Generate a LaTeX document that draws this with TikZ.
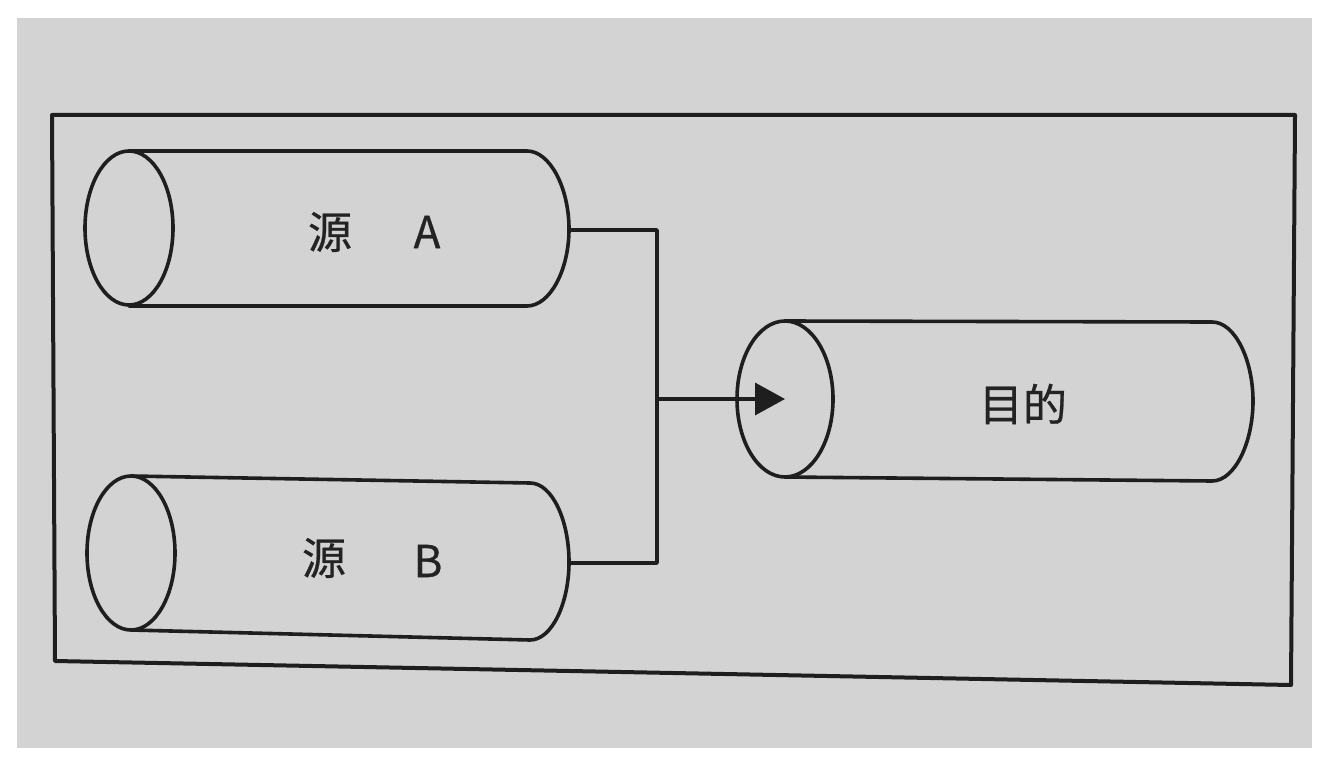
\documentclass[tikz,border=0pt]{standalone}
\usepackage{fontspec}
\newfontfamily\cjk[FakeBold=0.6]{Noto Sans CJK SC}
\usetikzlibrary{arrows.meta}
\definecolor{paper}{RGB}{211,211,211}
\definecolor{ink}{RGB}{30,30,30}
\definecolor{txt}{RGB}{35,35,35}
\tikzset{
  stroke/.style={draw=ink, line width=3.6pt, line join=round, line cap=round},
  label/.style={font=\cjk\fontsize{44}{50}\selectfont, text=txt, inner sep=0pt},
  flow/.style={stroke, line cap=butt, -{Triangle[length=30pt,width=32pt]}}
}
\begin{document}
\begin{tikzpicture}[x=1pt,y=-1pt]
\useasboundingbox (0,0) rectangle (1332,770);
\fill[white] (0,0) rectangle (1332,770);
\fill[paper] (17,18) rectangle (1312,748);
% outer frame
\draw[stroke, line width=4pt] (52,115) -- (1295,115) -- (1291,685) -- (55,661) -- cycle;
% source A cylinder
\draw[stroke] (129,151) -- (527,151)
  .. controls (550,151) and (569,188) .. (569,229)
  .. controls (569,270) and (550,306) .. (527,306) -- (129,306);
\draw[stroke] (129,228) ellipse [x radius=44, y radius=77];
% source B cylinder
\draw[stroke] (131,476) -- (530,483)
  .. controls (552,483) and (569,520) .. (569,562)
  .. controls (569,603) and (552,640) .. (530,640) -- (131,630);
\draw[stroke] (131,553) ellipse [x radius=44, y radius=77];
% target cylinder
\draw[stroke] (785,321) -- (1212,322)
  .. controls (1235,322) and (1253,360) .. (1253,401)
  .. controls (1253,442) and (1235,481) .. (1212,481) -- (785,477);
\draw[stroke] (785,399) ellipse [x radius=48, y radius=78];
% labels
\node[label] (srcA) at (330,232) {源};
\node[label] (lblA) at (427,232) {A};
\node[label] (srcB) at (324,558) {源};
\node[label] (lblB) at (428,561) {B};
\node[label] (dst) at (1023,404) {目的};
% ports
\coordinate (aR) at (569,230);
\coordinate (bR) at (569,563);
\coordinate (bus) at (657,399);
\coordinate (tL) at (785,399);
\draw[stroke, line cap=butt] (aR) -| (bus) |- (bR);
\draw[flow] (bus) -- (tL);
\end{tikzpicture}
\end{document}
